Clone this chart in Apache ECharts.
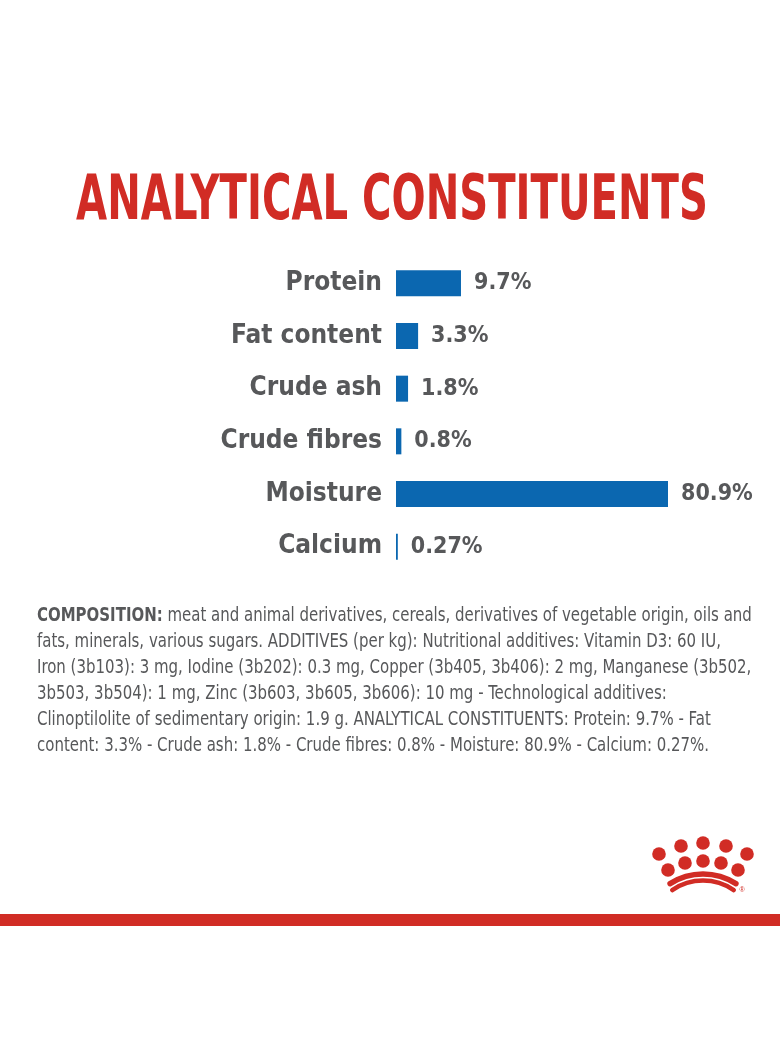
<!DOCTYPE html>
<html>
<head>
<meta charset="utf-8">
<script src="https://cdn.jsdelivr.net/npm/echarts@6.0.0/dist/echarts.min.js"></script>
<style>
  html, body { margin: 0; padding: 0; background: #fff; }
  #chart { width: 780px; height: 1064px; }
</style>
</head>
<body>
<div id="chart"></div>
<script>
const categories = ['Protein', 'Fat content', 'Crude ash', 'Crude fibres', 'Moisture', 'Calcium']
const values = [9.7, 3.3, 1.8, 0.8, 80.9, 0.27]

const compositionLines = [
  '{b|COMPOSITION:} meat and animal derivatives, cereals, derivatives of vegetable origin, oils and',
  'fats, minerals, various sugars. ADDITIVES (per kg): Nutritional additives: Vitamin D3: 60 IU,',
  'Iron (3b103): 3 mg, Iodine (3b202): 0.3 mg, Copper (3b405, 3b406): 2 mg, Manganese (3b502,',
  '3b503, 3b504): 1 mg, Zinc (3b603, 3b605, 3b606): 10 mg - Technological additives:',
  'Clinoptilolite of sedimentary origin: 1.9 g. ANALYTICAL CONSTITUENTS: Protein: 9.7% - Fat',
  'content: 3.3% - Crude ash: 1.8% - Crude fibres: 0.8% - Moisture: 80.9% - Calcium: 0.27%.'
]

const FONT = '"Liberation Sans Narrow", "DejaVu Sans Condensed", sans-serif'
const RED = '#d12c25'
const BLUE = '#0b67b0'
const GREY = '#57585a'

const myChart = echarts.init(document.getElementById('chart'))

// crown logo
const topDots = [[659, 854], [681, 846], [703, 843], [726, 846], [747, 854]]
const lowDots = [[668, 870], [685, 863], [703, 861], [721, 863], [738, 870]]
let logo = []
topDots.concat(lowDots).forEach(p => {
  logo.push({
    type: 'circle',
    shape: { cx: p[0], cy: p[1], r: 6.8 },
    style: { fill: RED }
  })
})
logo.push({
  type: 'arc',
  shape: { cx: 703, cy: 935, r: 61, startAngle: -Math.PI / 2 - 0.57, endAngle: -Math.PI / 2 + 0.57 },
  style: { stroke: RED, lineWidth: 5.5, fill: null, lineCap: 'round' }
})
logo.push({
  type: 'arc',
  shape: { cx: 703, cy: 935, r: 54.5, startAngle: -Math.PI / 2 - 0.6, endAngle: -Math.PI / 2 + 0.6 },
  style: { stroke: RED, lineWidth: 4.5, fill: null, lineCap: 'round' }
})
logo.push({
  type: 'text',
  x: 742, y: 890,
  style: { text: '®', font: '7px sans-serif', fill: RED, align: 'center', verticalAlign: 'middle' }
})

let option = {
  backgroundColor: '#fff',
  animation: false,
  grid: {
    left: 396,
    top: 257,
    width: 272,
    height: 316
  },
  xAxis: {
    type: 'value',
    min: 0,
    max: 80.9,
    show: false,
    // 中间段压缩，让水分条不把其他条挤没
    breaks: [{ start: 15, end: 55.3, gap: 0 }],
    breakArea: { show: false, itemStyle: { opacity: 0 } },
    splitLine: { show: false }
  },
  yAxis: {
    type: 'category',
    inverse: true,
    data: categories,
    axisLine: { show: false },
    axisTick: { show: false },
    axisLabel: {
      margin: 14,
      fontFamily: FONT,
      fontSize: 26,
      fontWeight: 'bold',
      color: GREY
    }
  },
  series: [
    {
      type: 'bar',
      data: values,
      barWidth: 26,
      itemStyle: { color: BLUE },
      label: {
        show: true,
        position: 'right',
        distance: 13,
        formatter: p => p.value + '%',
        fontFamily: FONT,
        fontSize: 23,
        fontWeight: 'bold',
        color: GREY
      }
    }
  ],
  graphic: [
    {
      type: 'text',
      x: 392,
      y: 203,
      scaleX: 0.72,
      originX: 0,
      style: {
        text: 'ANALYTICAL CONSTITUENTS',
        font: 'bold 62px ' + FONT,
        fill: RED,
        align: 'center',
        verticalAlign: 'middle'
      }
    },
    {
      type: 'text',
      x: 37,
      y: 603,
      scaleX: 0.876,
      originX: 0,
      style: {
        text: compositionLines.join('\n'),
        font: '19px ' + FONT,
        fill: GREY,
        lineHeight: 26,
        rich: {
          b: { fontFamily: FONT, fontSize: 19, fontWeight: 'bold', fill: GREY, lineHeight: 26 }
        }
      }
    },
    {
      type: 'rect',
      shape: { x: 0, y: 914, width: 780, height: 12 },
      style: { fill: RED }
    }
  ].concat(logo)
}
myChart.setOption(option)
</script>
</body>
</html>
